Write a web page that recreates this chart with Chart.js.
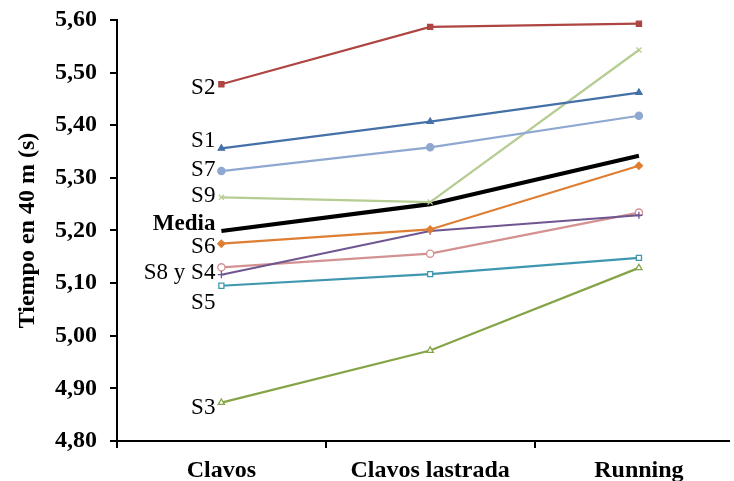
<!DOCTYPE html>
<html>
<head>
<meta charset="utf-8">
<script src="https://cdn.jsdelivr.net/npm/chart.js@4/dist/chart.umd.min.js"></script>
<style>
  html, body { margin: 0; padding: 0; background: #fff; }
  #wrap { width: 734px; height: 481px; position: relative; }
</style>
</head>
<body>
<div id="wrap"><canvas id="c" width="734" height="481"></canvas></div>
<script>
// ---- data ----
const categories = ['Clavos', 'Clavos lastrada', 'Running'];
const yTicks = [4.80, 4.90, 5.00, 5.10, 5.20, 5.30, 5.40, 5.50, 5.60];
const seriesNames = ['S1', 'S2', 'S3', 'S4', 'S5', 'S6', 'S7', 'S8', 'S9', 'Media'];
const s1 = [5.356, 5.407, 5.462];
const s2 = [5.478, 5.587, 5.593];
const s3 = [4.873, 4.972, 5.129];
const s4 = [5.116, 5.199, 5.229];
const s5 = [5.095, 5.117, 5.148];
const s6 = [5.175, 5.202, 5.323];
const s7 = [5.313, 5.358, 5.418];
const s8 = [5.130, 5.156, 5.234];
const s9 = [5.263, 5.254, 5.543];
const media = [5.199, 5.250, 5.342];
const yTitle = 'Tiempo en 40 m (s)';

// ---- styles ----
const SERIF = '"Liberation Serif", "Times New Roman", serif';
const pts = arr => arr.map((v, i) => ({ x: i, y: v }));
function ds(label, data, color, style, filled, extra) {
  return Object.assign({
    label, data: pts(data), borderColor: color, borderWidth: 2.2,
    pointStyle: style, pointRadius: 3.6, pointBorderWidth: 1.3,
    pointBorderColor: color, pointBackgroundColor: filled ? color : '#fff',
    tension: 0, fill: false
  }, extra || {});
}
const datasets = [
  ds('S2', s2, '#AE4542', 'rect', true),
  ds('S1', s1, '#4670A8', 'triangle', true),
  ds('S7', s7, '#8FA8D1', 'circle', true),
  ds('S9', s9, '#B5CC92', 'crossRot', false),
  ds('S6', s6, '#DE7E33', 'rectRot', true),
  ds('S4', s4, '#6F5690', 'cross', false),
  ds('S8', s8, '#D39291', 'circle', false),
  ds('S5', s5, '#3F97AF', 'rect', false),
  ds('S3', s3, '#85A447', 'triangle', false),
  ds('Media', media, '#000000', 'circle', true, { borderWidth: 4.2, pointRadius: 0 })
];

// left-side labels: [text, dataset label, pixel offset from first point, bold]
const sideLabels = [
  ['S2', 'S2', 2, false],
  ['S1', 'S1', -9, false],
  ['S7', 'S7', -3, false],
  ['S9', 'S9', -3, false],
  ['Media', 'Media', -9, true],
  ['S6', 'S6', 1, false],
  ['S8 y S4', 'S8', 4, false],
  ['S5', 'S5', 15, false],
  ['S3', 'S3', 3, false]
];
const sideLabelPlugin = {
  id: 'sideLabels',
  afterDatasetsDraw(chart) {
    const ctx = chart.ctx, xs = chart.scales.x, ys = chart.scales.y;
    ctx.save();
    ctx.fillStyle = '#000';
    ctx.textAlign = 'right';
    ctx.textBaseline = 'alphabetic';
    sideLabels.forEach(([text, key, dy, bold]) => {
      const d = chart.data.datasets.find(q => q.label === key);
      const x = xs.getPixelForValue(0) - 6;
      const y = ys.getPixelForValue(d.data[0].y) + dy;
      ctx.font = (bold ? 'bold ' : '') + '23px ' + SERIF;
      ctx.fillText(text, x, y + 8);
    });
    ctx.restore();
  }
};

new Chart(document.getElementById('c'), {
  type: 'line',
  data: { datasets },
  options: {
    responsive: false,
    animation: false,
    devicePixelRatio: 1,
    layout: { padding: { top: 20, right: 0, bottom: 0, left: 0 } },
    plugins: { legend: { display: false }, tooltip: { enabled: false } },
    scales: {
      x: {
        type: 'linear', min: -0.5, max: 2.43,
        afterBuildTicks(scale) {
          scale.ticks = [-0.5, 0, 0.5, 1, 1.5, 2].map(v => ({ value: v }));
        },
        afterFit(scale) { scale.height = 40; scale.paddingLeft = 0; scale.paddingRight = 0; },
        ticks: {
          autoSkip: false, maxRotation: 0, padding: 8,
          color: '#000',
          font: { family: SERIF, size: 24, weight: 'bold' },
          callback: v => Number.isInteger(v) ? categories[v] : ''
        },
        grid: {
          drawOnChartArea: false, tickLength: 7, lineWidth: 2,
          tickColor: c => (c.tick && Number.isInteger(c.tick.value)) ? 'rgba(0,0,0,0)' : '#000'
        },
        border: { display: true, color: '#000', width: 2 }
      },
      y: {
        min: 4.8, max: 5.6,
        afterBuildTicks(scale) { scale.ticks = yTicks.map(v => ({ value: v })); },
        afterFit(scale) { scale.width = 117; scale.paddingTop = 0; scale.paddingBottom = 0; },
        ticks: {
          padding: 13, color: '#000',
          font: { family: SERIF, size: 24, weight: 'bold' },
          callback: v => v.toFixed(2).replace('.', ',')
        },
        grid: { drawOnChartArea: false, tickLength: 7, lineWidth: 2, tickColor: '#000' },
        border: { display: true, color: '#000', width: 2 },
        title: {
          display: true, text: yTitle, color: '#000',
          font: { family: SERIF, size: 24, weight: 'bold' },
          padding: { top: 13, bottom: 0 }
        }
      }
    }
  },
  plugins: [sideLabelPlugin]
});
</script>
</body>
</html>
